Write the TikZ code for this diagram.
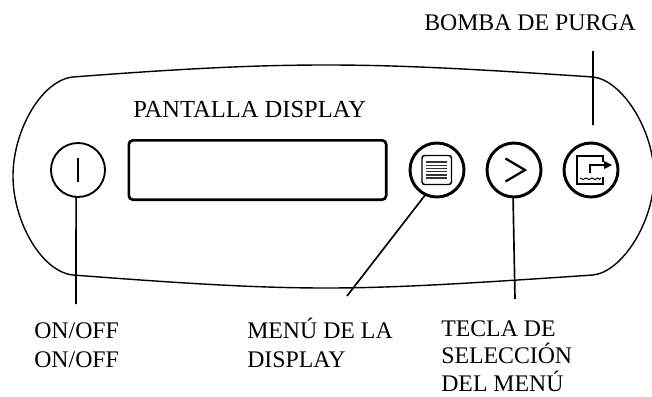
\documentclass[tikz,border=0pt]{standalone}
\usepackage{fontspec}
\setmainfont{Liberation Serif}
\begin{document}
\begin{tikzpicture}[x=0.75pt,y=-0.75pt,
  btn/.style={circle,draw=black,minimum size=40.5pt,inner sep=0pt,outer sep=0pt},
  lead/.style={draw=black,line width=1.25pt},
  lab/.style={anchor=base west,inner sep=0pt,font=\fontsize{17.85pt}{21.6pt}\selectfont,align=left}]
\useasboundingbox (0,0) rectangle (652,396);
% panel
\coordinate (tl) at (73,77); \coordinate (tr) at (593,77);
\coordinate (br) at (593,275); \coordinate (bl) at (73,275);
\draw[line width=1.05pt,line join=round] (tl) .. controls (190,68) and (260,65) .. (326,65)
  .. controls (392,65) and (460,68) .. (tr)
  .. controls (622,80) and (654,130) .. (654,176)
  .. controls (654,222) and (622,272) .. (br)
  .. controls (460,284) and (392,288) .. (326,288)
  .. controls (260,288) and (190,284) .. (bl)
  .. controls (42,272) and (13,222) .. (13,176)
  .. controls (13,130) and (42,80) .. (tl) -- cycle;
% display
\node[draw=black,line width=2pt,rounded corners=3pt,minimum width=193pt,minimum height=44.5pt,inner sep=0pt] (disp) at (257.5,170) {};
% buttons
\node[btn,line width=1.4pt] (b1) at (78,170) {};
\node[btn,line width=2.2pt] (b2) at (437,170) {};
\node[btn,line width=2.2pt] (b3) at (514,170) {};
\node[btn,line width=2.2pt] (b4) at (591,170) {};
% I glyph
\draw[line width=1.4pt] (78,158) -- (78,182);
% menu glyph
\draw[line width=1.1pt,rounded corners=2pt] (422,155.5) rectangle (451.5,184.5);
\foreach \yy in {162,165.2,168.4,171.6,174.8,178}{\draw[line width=1.05pt,draw=black!80] (426,\yy) -- (447,\yy);}
% > glyph
\draw[line width=1.7pt] (505.5,158.5) -- (525,170) -- (505.5,181.5);
% drain glyph
\draw[line width=1.4pt] (603,162) -- (603,156) -- (577,156) -- (577,184) -- (603,184) -- (603,177);
\draw[line width=1.7pt] (590,173) -- (590,165) -- (605,165);
\fill (604,161) -- (612,165) -- (604,169) -- cycle;
\draw[line width=0.7pt] (580,178) .. controls (582,180) and (584,180) .. (586,178) .. controls (588,180) and (590,180) .. (592,178) .. controls (594,180) and (596,180) .. (598,178) .. controls (599,180) and (600,180) .. (601,178);
% labels
\node[lab] (lbomba) at (424,30) {BOMBA DE PURGA};
\node[lab,font=\fontsize{18.4pt}{22pt}\selectfont] (lpant) at (133,117) {PANTALLA DISPLAY};
\node[lab] (lon) at (34,367) {ON/OFF\\ON/OFF};
\node[lab] (lmenu) at (247,367) {MENÚ DE LA\\DISPLAY};
\node[lab,font=\fontsize{17.85pt}{20.5pt}\selectfont] (ltecla) at (441,391) {TECLA DE\\SELECCIÓN\\DEL MENÚ};
% leaders
\coordinate (e1) at (76,304); \coordinate (e2) at (347,296);
\coordinate (e3) at (515,299); \coordinate (e4) at (593,51);
\draw[lead] (b1.266) -- (e1);
\draw[lead] (b2.245) -- (e2);
\draw[lead] (b3.268) -- (e3);
\draw[lead,shorten >=13.5pt] (e4) -- (b4.86);
\end{tikzpicture}
\end{document}
